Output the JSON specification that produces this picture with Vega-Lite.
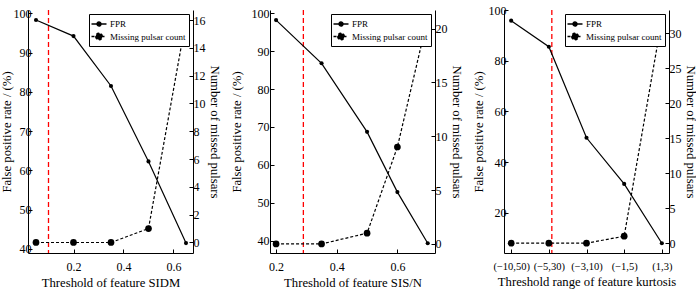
{
  "$schema": "https://vega.github.io/schema/vega-lite/v6.json",
  "padding": {"left": 0, "top": 4, "right": 0, "bottom": 0},
  "spacing": 10,
  "resolve": {"scale": {"shape": "independent", "strokeDash": "independent"}, "legend": {"shape": "independent", "strokeDash": "independent"}},
  "config": {
    "font": "Tinos",
    "view": {"stroke": null},
    "axis": {
      "labelFont": "Tinos", "titleFont": "Tinos",
      "labelFontSize": 12, "titleFontSize": 12.7, "titleFontWeight": "normal",
      "labelColor": "black", "titleColor": "black", "domainColor": "black", "tickColor": "black",
      "domainWidth": 1, "tickWidth": 1, "grid": false, "tickSize": -4,
      "labelPadding": 2, "titlePadding": 1
    },
    "axisX": {"labelPadding": 12, "titlePadding": 4, "labelAngle": 0},
    "legend": {"labelFont": "Tinos"}
  },
  "hconcat": [
    {
      "width": 165, "height": 243,
      "layer": [
        {
          "data": {"values": [{"x": 0.1}]},
          "mark": {"type": "rule", "color": "#ff0000", "strokeDash": [5, 3], "strokeWidth": 1.3},
          "encoding": {"x": {"field": "x", "type": "quantitative", "scale": {"domain": [0.018, 0.678], "nice": false, "zero": false}, "axis": {"values": [0.2, 0.4, 0.6], "format": ".1f", "title": "Threshold of feature SIDM"}}}
        },
        {
          "data": {"values": [{"series": "FPR"}, {"series": "Missing pulsar count"}]},
          "transform": [{"filter": "false"}],
          "mark": {"type": "point", "filled": true, "fill": "black", "stroke": "black", "strokeWidth": 1.1, "opacity": 1},
          "encoding": {
            "shape": {"field": "series", "type": "nominal", "scale": {"domain": ["FPR", "Missing pulsar count"], "range": ["M-1.25,0H1.25M-0.33,0A0.33,0.33,0,1,0,0.33,0A0.33,0.33,0,1,0,-0.33,0Z", "M-1.25,0H1.25M-0.55,0A0.55,0.55,0,1,0,0.55,0A0.55,0.55,0,1,0,-0.55,0Z"]},
              "legend": {"title": null, "orient": "top-right", "offset": 4, "padding": 3, "strokeColor": "black", "fillColor": "white", "labelFontSize": 9, "labelLimit": 200, "symbolSize": 144, "rowPadding": 0.5, "labelOffset": 4}},
            "strokeDash": {"field": "series", "type": "nominal", "scale": {"domain": ["FPR", "Missing pulsar count"], "range": [[1, 0], [3, 2]]},
              "legend": {"title": null, "orient": "top-right", "offset": 4, "padding": 3, "strokeColor": "black", "fillColor": "white", "labelFontSize": 9, "labelLimit": 200, "symbolSize": 144, "rowPadding": 0.5, "labelOffset": 4}}
          }
        },
        {
          "data": {"values": [
            {"x": 0.05, "series": "FPR", "y": 98.3},
            {"x": 0.2, "series": "FPR", "y": 94.2},
            {"x": 0.35, "series": "FPR", "y": 81.5},
            {"x": 0.5, "series": "FPR", "y": 62.3},
            {"x": 0.65, "series": "FPR", "y": 41.5}
          ]},
          "encoding": {
            "x": {"field": "x", "type": "quantitative", "scale": {"domain": [0.018, 0.678], "nice": false, "zero": false}},
            "y": {"field": "y", "type": "quantitative", "scale": {"domain": [38.98, 100.84], "nice": false, "zero": false}, "axis": {"orient": "left", "values": [40, 50, 60, 70, 80, 90, 100], "title": "False positive rate / (%)", "labelPadding": 1, "titlePadding": 0}}
          },
          "layer": [
            {"mark": {"type": "line", "color": "black", "strokeWidth": 1.2}},
            {"mark": {"type": "point", "filled": true, "color": "black", "size": 17, "opacity": 1}}
          ]
        },
        {
          "data": {"values": [
            {"x": 0.05, "series": "Missing pulsar count", "y": 0},
            {"x": 0.2, "series": "Missing pulsar count", "y": 0},
            {"x": 0.35, "series": "Missing pulsar count", "y": 0},
            {"x": 0.5, "series": "Missing pulsar count", "y": 1},
            {"x": 0.65, "series": "Missing pulsar count", "y": 16}
          ]},
          "encoding": {
            "x": {"field": "x", "type": "quantitative", "scale": {"domain": [0.018, 0.678], "nice": false, "zero": false}},
            "y": {"field": "y", "type": "quantitative", "scale": {"domain": [-0.757, 16.72], "nice": false, "zero": false}, "axis": {"orient": "right", "values": [0, 2, 4, 6, 8, 10, 12, 14, 16], "title": "Number of missed pulsars", "labelPadding": 4, "titlePadding": 2}}
          },
          "layer": [
            {"mark": {"type": "line", "color": "black", "strokeWidth": 1.2, "strokeDash": [3, 2]}},
            {"mark": {"type": "point", "filled": true, "color": "black", "size": 45, "opacity": 1}}
          ]
        }
      ],
      "resolve": {"scale": {"y": "independent"}}
    },
    {
      "width": 165, "height": 243,
      "layer": [
        {
          "data": {"values": [{"x": 0.29}]},
          "mark": {"type": "rule", "color": "#ff0000", "strokeDash": [5, 3], "strokeWidth": 1.3},
          "encoding": {"x": {"field": "x", "type": "quantitative", "scale": {"domain": [0.18, 0.724], "nice": false, "zero": false}, "axis": {"values": [0.2, 0.4, 0.6], "format": ".1f", "title": "Threshold of feature SIS/N"}}}
        },
        {
          "data": {"values": [{"series": "FPR"}, {"series": "Missing pulsar count"}]},
          "transform": [{"filter": "false"}],
          "mark": {"type": "point", "filled": true, "fill": "black", "stroke": "black", "strokeWidth": 1.1, "opacity": 1},
          "encoding": {
            "shape": {"field": "series", "type": "nominal", "scale": {"domain": ["FPR", "Missing pulsar count"], "range": ["M-1.25,0H1.25M-0.33,0A0.33,0.33,0,1,0,0.33,0A0.33,0.33,0,1,0,-0.33,0Z", "M-1.25,0H1.25M-0.55,0A0.55,0.55,0,1,0,0.55,0A0.55,0.55,0,1,0,-0.55,0Z"]},
              "legend": {"title": null, "orient": "top-right", "offset": 4, "padding": 3, "strokeColor": "black", "fillColor": "white", "labelFontSize": 9, "labelLimit": 200, "symbolSize": 144, "rowPadding": 0.5, "labelOffset": 4}},
            "strokeDash": {"field": "series", "type": "nominal", "scale": {"domain": ["FPR", "Missing pulsar count"], "range": [[1, 0], [3, 2]]},
              "legend": {"title": null, "orient": "top-right", "offset": 4, "padding": 3, "strokeColor": "black", "fillColor": "white", "labelFontSize": 9, "labelLimit": 200, "symbolSize": 144, "rowPadding": 0.5, "labelOffset": 4}}
          }
        },
        {
          "data": {"values": [
            {"x": 0.2, "series": "FPR", "y": 98.2},
            {"x": 0.35, "series": "FPR", "y": 86.8},
            {"x": 0.5, "series": "FPR", "y": 68.7},
            {"x": 0.6, "series": "FPR", "y": 52.8},
            {"x": 0.7, "series": "FPR", "y": 39.3}
          ]},
          "encoding": {
            "x": {"field": "x", "type": "quantitative", "scale": {"domain": [0.18, 0.724], "nice": false, "zero": false}},
            "y": {"field": "y", "type": "quantitative", "scale": {"domain": [36.72, 100.87], "nice": false, "zero": false}, "axis": {"orient": "left", "values": [40, 50, 60, 70, 80, 90, 100], "title": "False positive rate / (%)", "labelPadding": 5, "titlePadding": 8}}
          },
          "layer": [
            {"mark": {"type": "line", "color": "black", "strokeWidth": 1.2}},
            {"mark": {"type": "point", "filled": true, "color": "black", "size": 17, "opacity": 1}}
          ]
        },
        {
          "data": {"values": [
            {"x": 0.2, "series": "Missing pulsar count", "y": 0},
            {"x": 0.35, "series": "Missing pulsar count", "y": 0},
            {"x": 0.5, "series": "Missing pulsar count", "y": 1},
            {"x": 0.6, "series": "Missing pulsar count", "y": 9},
            {"x": 0.7, "series": "Missing pulsar count", "y": 21}
          ]},
          "encoding": {
            "x": {"field": "x", "type": "quantitative", "scale": {"domain": [0.18, 0.724], "nice": false, "zero": false}},
            "y": {"field": "y", "type": "quantitative", "scale": {"domain": [-0.84, 21.72], "nice": false, "zero": false}, "axis": {"orient": "right", "values": [0, 5, 10, 15, 20], "title": "Number of missed pulsars", "labelPadding": 4, "titlePadding": 2}}
          },
          "layer": [
            {"mark": {"type": "line", "color": "black", "strokeWidth": 1.2, "strokeDash": [3, 2]}},
            {"mark": {"type": "point", "filled": true, "color": "black", "size": 45, "opacity": 1}}
          ]
        }
      ],
      "resolve": {"scale": {"y": "independent"}}
    },
    {
      "width": 165, "height": 243,
      "layer": [
        {
          "data": {"values": [{"range": "(−5,30)"}]},
          "mark": {"type": "rule", "color": "#ff0000", "strokeDash": [5, 3], "strokeWidth": 1.3, "xOffset": 3},
          "encoding": {"x": {"field": "range", "type": "ordinal", "sort": null, "scale": {"type": "point", "padding": 0.19, "domain": ["(−10,50)", "(−5,30)", "(−3,10)", "(−1,5)", "(1,3)"]}, "axis": {"title": "Threshold range of feature kurtosis", "labelFontSize": 10.5}}}
        },
        {
          "data": {"values": [{"series": "FPR"}, {"series": "Missing pulsar count"}]},
          "transform": [{"filter": "false"}],
          "mark": {"type": "point", "filled": true, "fill": "black", "stroke": "black", "strokeWidth": 1.1, "opacity": 1},
          "encoding": {
            "shape": {"field": "series", "type": "nominal", "scale": {"domain": ["FPR", "Missing pulsar count"], "range": ["M-1.25,0H1.25M-0.33,0A0.33,0.33,0,1,0,0.33,0A0.33,0.33,0,1,0,-0.33,0Z", "M-1.25,0H1.25M-0.55,0A0.55,0.55,0,1,0,0.55,0A0.55,0.55,0,1,0,-0.55,0Z"]},
              "legend": {"title": null, "orient": "top-right", "offset": 4, "padding": 3, "strokeColor": "black", "fillColor": "white", "labelFontSize": 9, "labelLimit": 200, "symbolSize": 144, "rowPadding": 0.5, "labelOffset": 4}},
            "strokeDash": {"field": "series", "type": "nominal", "scale": {"domain": ["FPR", "Missing pulsar count"], "range": [[1, 0], [3, 2]]},
              "legend": {"title": null, "orient": "top-right", "offset": 4, "padding": 3, "strokeColor": "black", "fillColor": "white", "labelFontSize": 9, "labelLimit": 200, "symbolSize": 144, "rowPadding": 0.5, "labelOffset": 4}}
          }
        },
        {
          "data": {"values": [
            {"range": "(−10,50)", "series": "FPR", "y": 95.8},
            {"range": "(−5,30)", "series": "FPR", "y": 85.5},
            {"range": "(−3,10)", "series": "FPR", "y": 49.6},
            {"range": "(−1,5)", "series": "FPR", "y": 31.4},
            {"range": "(1,3)", "series": "FPR", "y": 8.0}
          ]},
          "encoding": {
            "x": {"field": "range", "type": "ordinal", "sort": null, "scale": {"type": "point", "padding": 0.19, "domain": ["(−10,50)", "(−5,30)", "(−3,10)", "(−1,5)", "(1,3)"]}},
            "y": {"field": "y", "type": "quantitative", "scale": {"domain": [4.16, 100], "nice": false, "zero": false}, "axis": {"orient": "left", "values": [20, 40, 60, 80, 100], "title": "False positive rate / (%)", "labelPadding": 2, "titlePadding": 3}}
          },
          "layer": [
            {"mark": {"type": "line", "color": "black", "strokeWidth": 1.2}},
            {"mark": {"type": "point", "filled": true, "color": "black", "size": 17, "opacity": 1}}
          ]
        },
        {
          "data": {"values": [
            {"range": "(−10,50)", "series": "Missing pulsar count", "y": 0},
            {"range": "(−5,30)", "series": "Missing pulsar count", "y": 0},
            {"range": "(−3,10)", "series": "Missing pulsar count", "y": 0},
            {"range": "(−1,5)", "series": "Missing pulsar count", "y": 1},
            {"range": "(1,3)", "series": "Missing pulsar count", "y": 32}
          ]},
          "encoding": {
            "x": {"field": "range", "type": "ordinal", "sort": null, "scale": {"type": "point", "padding": 0.19, "domain": ["(−10,50)", "(−5,30)", "(−3,10)", "(−1,5)", "(1,3)"]}},
            "y": {"field": "y", "type": "quantitative", "scale": {"domain": [-1.4, 33.34], "nice": false, "zero": false}, "axis": {"orient": "right", "values": [0, 5, 10, 15, 20, 25, 30], "title": "Number of missed pulsars", "labelPadding": 4, "titlePadding": 2}}
          },
          "layer": [
            {"mark": {"type": "line", "color": "black", "strokeWidth": 1.2, "strokeDash": [3, 2]}},
            {"mark": {"type": "point", "filled": true, "color": "black", "size": 45, "opacity": 1}}
          ]
        }
      ],
      "resolve": {"scale": {"y": "independent"}}
    }
  ]
}
